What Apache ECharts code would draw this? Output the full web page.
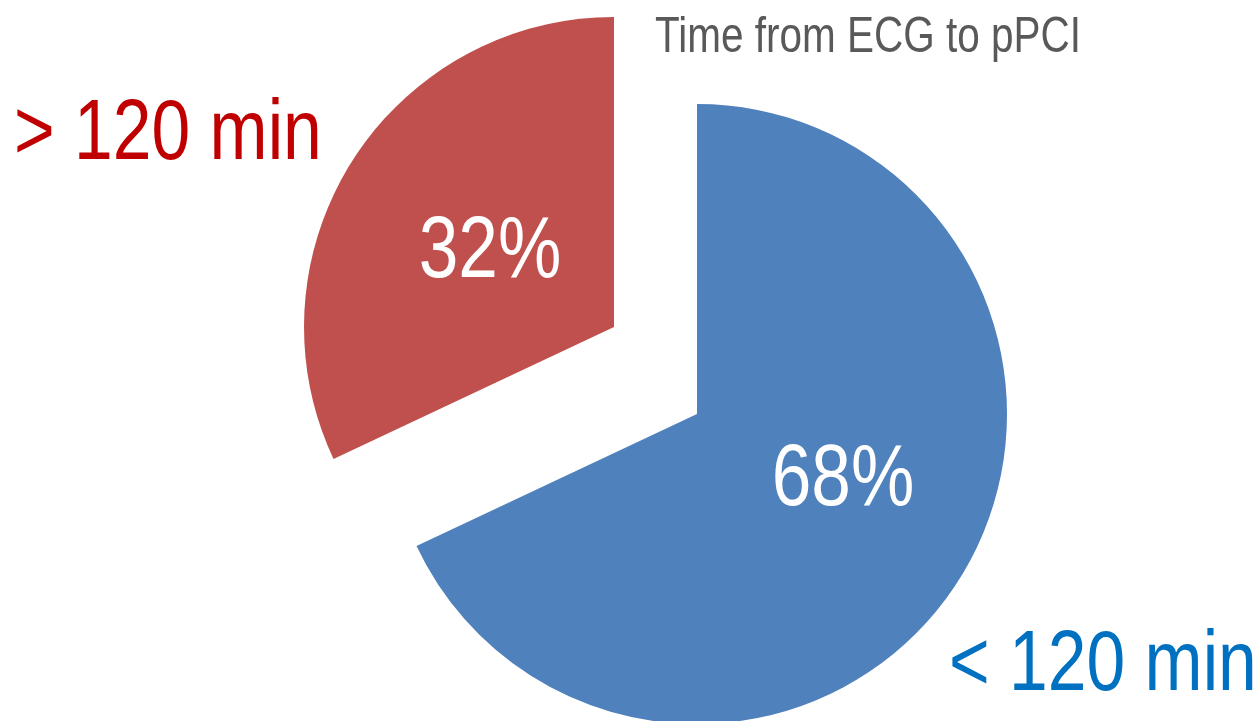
<!DOCTYPE html>
<html>
<head>
<meta charset="utf-8">
<script src="https://cdn.jsdelivr.net/npm/echarts@6/dist/echarts.min.js"></script>
<style>
  html, body { margin: 0; padding: 0; background: #ffffff; }
  #chart { width: 1260px; height: 721px; }
</style>
</head>
<body>
<div id="chart"></div>
<script>
// Share of patients by time from ECG to primary PCI
const categories = ['< 120 min', '> 120 min'];
const shares = [68, 32];
const sliceColors = ['#4F81BD', '#C0504D'];
const categoryColors = ['#0070C0', '#C00000'];
const chartTitle = 'Time from ECG to pPCI';

const FONT = '"Liberation Sans", Arial, sans-serif';
const NARROW = 0.81;           // condensed lettering
const RADIUS = 310;
// each slice is pulled away from the other, so each gets its own centre
const centers = [[697, 414], [614, 327]];
const valueLabelPos = [[843, 481], [490, 253]];
const categoryLabelPos = [[949, 623], [14, 92]];

const chart = echarts.init(document.getElementById('chart'), null, { renderer: 'canvas' });

function sliceSeries(k) {
  return {
    type: 'pie',
    center: centers[k],
    radius: [0, RADIUS],
    startAngle: 90,
    clockwise: true,
    silent: true,
    animation: false,
    z: 1,
    emphasis: { disabled: true },
    label: { show: false },
    labelLine: { show: false },
    data: categories.map((name, i) => ({
      name: name,
      value: shares[i],
      itemStyle: { color: i === k ? sliceColors[i] : 'rgba(0,0,0,0)' }
    }))
  };
}

function narrowText(text, x, y, size, color, align, vAlign) {
  return {
    type: 'text',
    x: x, y: y,
    z: 100,
    scaleX: NARROW,
    silent: true,
    style: {
      text: text, fill: color,
      font: size + 'px ' + FONT,
      align: align, verticalAlign: vAlign
    }
  };
}

const graphics = [narrowText(chartTitle, 655, 13, 50, '#595959', 'left', 'top')];
categories.forEach((name, i) => {
  graphics.push(narrowText(name, categoryLabelPos[i][0], categoryLabelPos[i][1], 86,
    categoryColors[i], 'left', 'top'));
  graphics.push(narrowText(shares[i] + '%', valueLabelPos[i][0], valueLabelPos[i][1], 88,
    '#ffffff', 'center', 'middle'));
});

chart.setOption({
  backgroundColor: '#ffffff',
  animation: false,
  series: [sliceSeries(0), sliceSeries(1)],
  graphic: { elements: graphics }
});
</script>
</body>
</html>
